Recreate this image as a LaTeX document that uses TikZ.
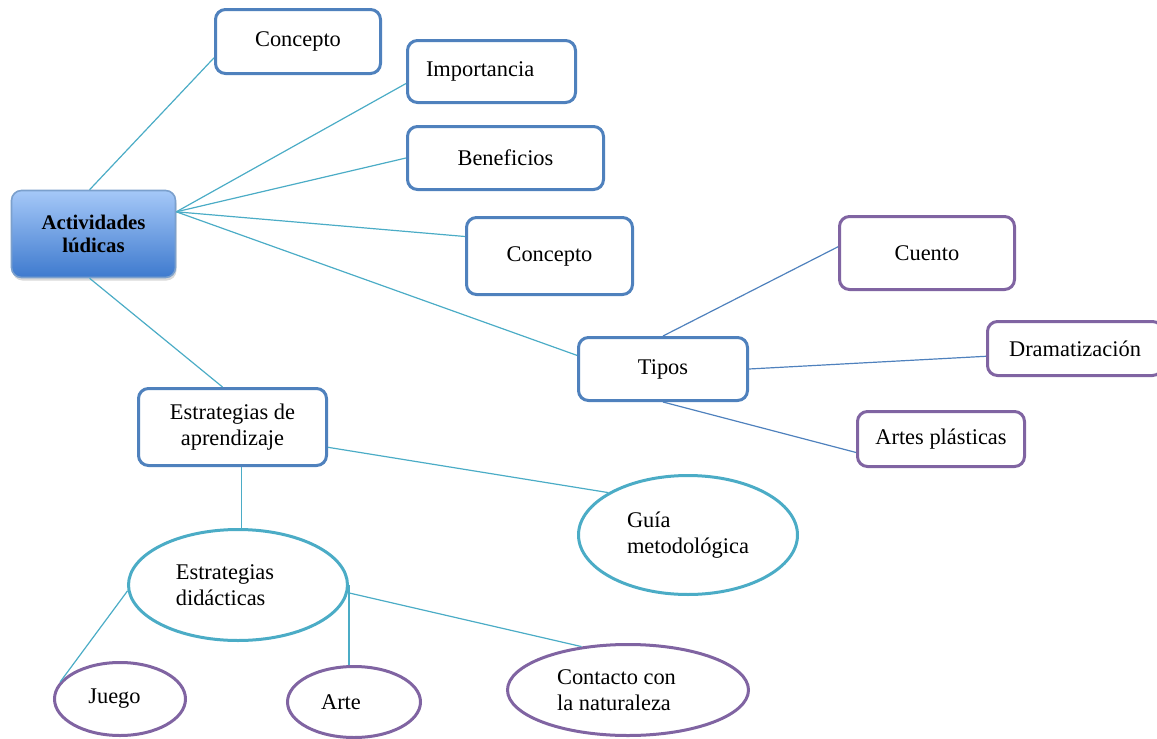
\documentclass[tikz,border=0pt]{standalone}
\usepackage{fontspec}
\setmainfont{Liberation Serif}
\usetikzlibrary{shapes.geometric,shadows,calc}
\definecolor{mapblue}{RGB}{79,129,189}
\definecolor{mappurple}{RGB}{128,100,162}
\definecolor{mapteal}{RGB}{75,172,198}
\definecolor{acttop}{RGB}{165,200,248}
\definecolor{actbot}{RGB}{62,122,206}
\newcommand{\mapfont}{\fontsize{11.2}{13}\selectfont}
\tikzstyle{box} = [draw, line width=1.5pt, rounded corners=5pt, fill=white, font=\mapfont, align=center, inner sep=2pt]
\tikzstyle{bluebox} = [box, draw=mapblue]
\tikzstyle{purplebox} = [box, draw=mappurple]
\tikzstyle{oval} = [ellipse, draw, line width=1.5pt, fill=white, inner sep=0pt, font=\mapfont, align=left]
\tikzstyle{ovaltext} = [font=\mapfont, align=left, inner sep=0pt]
\tikzstyle{link} = [color=mapteal, line width=0.6pt]
\tikzstyle{bluelink} = [color=mapblue, line width=0.6pt]

\begin{document}
\begin{tikzpicture}[x=0.5pt, y=-0.5pt]
\useasboundingbox (0,0) rectangle (1157,739);

% Central node
\node[draw=mapblue!75, line width=0.8pt, rounded corners=5pt, top color=acttop, bottom color=actbot,
  drop shadow={shadow xshift=0.5pt, shadow yshift=-1.5pt, opacity=0.3},
  minimum width=82pt, minimum height=43.5pt, align=center,
  font=\fontsize{10.4}{11.5}\selectfont\bfseries] (act) at (93.5,234) {Actividades\\lúdicas};

% First level
\node[bluebox, minimum width=82.5pt, minimum height=32pt] (con1) at (298,41.5) {Concepto};
\node[bluebox, minimum width=84pt, minimum height=31pt, text width=65.5pt, align=left, inner xsep=9.25pt] (imp) at (491.5,71.5) {Importancia};
\node[bluebox, minimum width=98pt, minimum height=31.5pt] (ben) at (505.5,158) {Beneficios};
\node[bluebox, minimum width=83pt, minimum height=38.5pt] (con2) at (549.5,256) {Concepto};
\node[bluebox, minimum width=84.5pt, minimum height=31.5pt] (tip) at (663,369) {Tipos};
\node[bluebox, minimum width=94pt, minimum height=38.5pt] (esa) at (232.5,427) {Estrategias de\\aprendizaje};

% Tipos
\node[purplebox, minimum width=87.5pt, minimum height=36.5pt] (cue) at (927,253) {Cuento};
\node[purplebox, minimum width=87.5pt, minimum height=27pt] (dra) at (1075,348.5) {Dramatización};
\node[purplebox, minimum width=83.5pt, minimum height=27.5pt] (apl) at (941,439) {Artes plásticas};

% Estrategias
\node[oval, draw=mapteal, minimum width=109.5pt, minimum height=59.5pt] (gui) at (688,535) {Guía\\metodológica};
\node[oval, draw=mapteal, minimum width=109.5pt, minimum height=55.5pt,
  label={[ovaltext, xshift=-6.5pt]center:Estrategias\\didácticas}] (esd) at (238,585) {};
\node[oval, draw=mappurple, minimum width=65.5pt, minimum height=36.5pt,
  label={[ovaltext, xshift=-2.75pt]center:Juego}] (jue) at (120,699) {};
\node[oval, draw=mappurple, minimum width=66.5pt, minimum height=35.5pt,
  label={[ovaltext, xshift=-6.5pt]center:Arte}] (art) at (354,702) {};
\node[oval, draw=mappurple, minimum width=120.5pt, minimum height=45.5pt,
  label={[ovaltext, xshift=-5.75pt]center:Contacto con\\la naturaleza}] (con) at (628,690) {};

% Connectors
\draw[link] (act.95) -- (con1.191);
\draw[link] (act.15) -- (imp.188);
\draw[link] (act.15) -- (ben.west);
\draw[link] (act.15) -- (con2.167);
\draw[link] (act.15) -- (tip.171);
\draw[link] (act.-95) -- (esa.104);
\draw[bluelink] (tip.north) -- (cue.176);
\draw[bluelink] (tip.east) -- (dra.185);
\draw[bluelink] (tip.south) -- (apl.189);
\draw[link] (esa.-12) -- (gui.152);
\draw[link] (esa.-77) -- (esa.-77 |- esd.north);
\draw[link] (esd.183) -- (jue.164);
\draw[link] (esd.east) -- (esd.east |- art.north);
\draw[link] (esd.-4) -- (con.137);
\end{tikzpicture}
\end{document}
